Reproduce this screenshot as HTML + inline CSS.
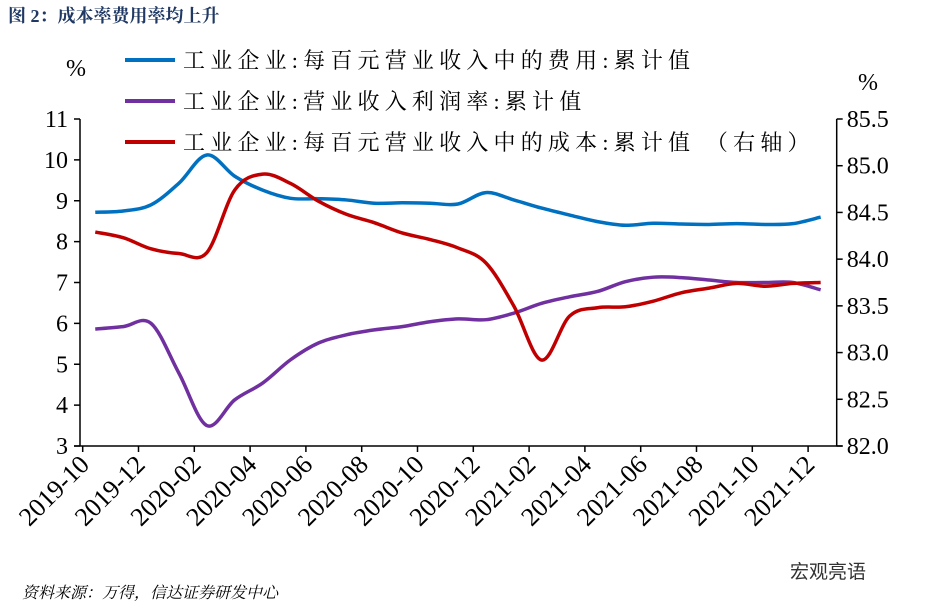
<!DOCTYPE html>
<html><head><meta charset="utf-8"><style>
body{margin:0;background:#fff;width:925px;height:609px;overflow:hidden}
svg text{font-family:"Liberation Serif","Noto Serif CJK SC",serif}
</style></head><body>
<svg id="c" width="925" height="609">
<text x="8" y="22" font-size="18" font-weight="bold" fill="#1f3864" style="font-family:'Liberation Serif','Noto Serif CJK SC',serif">图 2：成本率费用率均上升</text>
<text x="66" y="76" font-size="24">%</text>
<text x="858" y="90" font-size="24">%</text>
<g>
<line x1="125" y1="60" x2="175" y2="60" stroke="#0070c0" stroke-width="4"/>
<text x="183" y="68" font-size="22" style="letter-spacing:5.2px">工业企业:每百元营业收入中的费用:累计值</text>
<line x1="125" y1="101" x2="175" y2="101" stroke="#7030a0" stroke-width="4"/>
<text x="183" y="109" font-size="22" style="letter-spacing:5.2px">工业企业:营业收入利润率:累计值</text>
<line x1="125" y1="142" x2="175" y2="142" stroke="#c00000" stroke-width="4"/>
<text x="183" y="150" font-size="22" style="letter-spacing:5.2px">工业企业:每百元营业收入中的成本:累计值 （右轴）</text>
</g>
<g id="axes"></g>
<g id="series"></g>
<text x="22" y="598" font-size="16" font-style="italic">资料来源：万得，信达证券研发中心</text>
<text x="790" y="578" font-size="19" fill="#333" style="font-family:'Liberation Sans','Noto Sans CJK SC',sans-serif">宏观亮语</text>
</svg>
<script>
const months=["2019-10","2019-11","2019-12","2020-01","2020-02","2020-03","2020-04","2020-05","2020-06","2020-07","2020-08","2020-09","2020-10","2020-11","2020-12","2021-01","2021-02","2021-03","2021-04","2021-05","2021-06","2021-07","2021-08","2021-09","2021-10","2021-11","2021-12"];
const expense=[8.72,8.75,8.9,9.43,10.12,9.6,9.26,9.06,9.05,9.02,8.94,8.95,8.94,8.92,9.2,9.02,8.82,8.65,8.49,8.4,8.45,8.43,8.42,8.44,8.42,8.44,8.6];
const profit=[5.86,5.92,6.0,4.78,3.5,4.13,4.54,5.11,5.52,5.72,5.84,5.92,6.04,6.11,6.09,6.25,6.49,6.65,6.78,7.02,7.13,7.12,7.06,7.0,7.0,7.0,6.82];
const cost=[84.29,84.23,84.11,84.06,84.07,84.74,84.91,84.81,84.62,84.48,84.39,84.28,84.21,84.12,83.96,83.5,82.92,83.39,83.48,83.49,83.55,83.64,83.69,83.74,83.71,83.74,83.75];
const leftTicks=[3,4,5,6,7,8,9,10,11];
const rightTicks=["82.0","82.5","83.0","83.5","84.0","84.5","85.0","85.5"];
const xLabels=["2019-10","2019-12","2020-02","2020-04","2020-06","2020-08","2020-10","2020-12","2021-02","2021-04","2021-06","2021-08","2021-10","2021-12"];

const X0=82.7,MW=27.9,TOP=119,BOT=446,XL=80,XR=836.7;
const xi=i=>X0+(i+0.45)*MW;
const yL=v=>BOT-(v-3)/8*(BOT-TOP);
const yR=v=>BOT-(v-82)/3.5*(BOT-TOP);
const NS="http://www.w3.org/2000/svg";
function mk(t,a,p){const e=document.createElementNS(NS,t);for(const k in a)e.setAttribute(k,a[k]);p.appendChild(e);return e;}
const ax=document.getElementById('axes');
let e=mk('line',{x1:XL,y1:TOP,x2:XL,y2:BOT,stroke:'#000','stroke-width':1.5},ax);


e=mk('line',{x1:XR,y1:TOP,x2:XR,y2:BOT,stroke:'#000','stroke-width':1.5},ax);


e=mk('line',{x1:XL-6,y1:BOT,x2:XR+6,y2:BOT,stroke:'#000','stroke-width':1.5},ax);


leftTicks.forEach(v=>{const y=yL(v);
 mk('line',{x1:XL-6,y1:y,x2:XL,y2:y,stroke:'#000','stroke-width':1.5},ax);
 const t=mk('text',{x:XL-12,y:y+8,'font-size':24,'text-anchor':'end'},ax);t.textContent=v;
 
 });
rightTicks.forEach(s=>{const y=yR(parseFloat(s));
 mk('line',{x1:XR,y1:y,x2:XR+6,y2:y,stroke:'#000','stroke-width':1.5},ax);
 const t=mk('text',{x:XR+10,y:y+8,'font-size':24},ax);t.textContent=s;
 
 });
xLabels.forEach(s=>{const i=months.indexOf(s);const x=X0+i*MW;
 mk('line',{x1:x,y1:BOT,x2:x,y2:BOT+6,stroke:'#000','stroke-width':1.5},ax);
 const t=mk('text',{x:x+8,y:BOT+20,'font-size':26,'text-anchor':'end',transform:`rotate(-45 ${x+8} ${BOT+20})`},ax);t.textContent=s;
 
 });
function path(pts){let d=`M${pts[0][0]},${pts[0][1]}`;
 for(let i=0;i<pts.length-1;i++){const p0=pts[i-1]||pts[i],p1=pts[i],p2=pts[i+1],p3=pts[i+2]||p2;
  const c1=[p1[0]+(p2[0]-p0[0])/6,p1[1]+(p2[1]-p0[1])/6],c2=[p2[0]-(p3[0]-p1[0])/6,p2[1]-(p3[1]-p1[1])/6];
  d+=`C${c1[0]},${c1[1]} ${c2[0]},${c2[1]} ${p2[0]},${p2[1]}`;}
 return d;}
const sg=document.getElementById('series');
function draw(arr,fy,col,name){const p=mk('path',{d:path(arr.map((v,i)=>[xi(i),fy(v)])),fill:'none',stroke:col,'stroke-width':3.5,'stroke-linejoin':'round'},sg);
 
 }
draw(expense,yL,'#0070c0','expense-line');
draw(profit,yL,'#7030a0','profit-margin-line');
draw(cost,yR,'#c00000','cost-line');
</script>
</body></html>
